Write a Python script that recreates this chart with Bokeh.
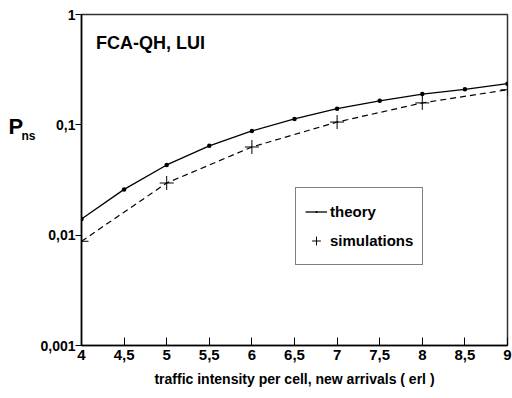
from bokeh.plotting import figure
from bokeh.layouts import row
from bokeh.models import FixedTicker, CustomJSTickFormatter, Legend, LegendItem, Label
from bokeh.embed import file_html
from bokeh.resources import INLINE

x_theory = [4, 4.5, 5, 5.5, 6, 6.5, 7, 7.5, 8, 8.5, 9]
p_theory = [0.0140, 0.026, 0.0433, 0.0645, 0.088, 0.113, 0.140, 0.165, 0.190, 0.210, 0.236]
x_sim = [4, 5, 6, 7, 8, 9]
p_sim = [0.0088, 0.0297, 0.063, 0.106, 0.158, 0.208]
x_ticks = [4, 4.5, 5, 5.5, 6, 6.5, 7, 7.5, 8, 8.5, 9]
y_ticks = [0.001, 0.01, 0.1, 1]

FONT = "Liberation Sans"
LEFT_W = 37

# narrow panel holding the y-axis label "P" with subscript "ns"
lab = figure(width=LEFT_W, height=398, output_backend="svg", toolbar_location=None,
             x_axis_location=None, y_axis_location=None, min_border=0,
             x_range=(0, 1), y_range=(0, 1))
lab.outline_line_color = None
lab.grid.visible = False
lab.background_fill_color = "white"
lab.border_fill_color = "white"
lab.add_layout(Label(x=8, y=219, x_units="screen", y_units="screen", text="P",
                     text_font=FONT, text_font_style="bold", text_color="black",
                     text_font_size="22px", text_baseline="middle"))
lab.add_layout(Label(x=21, y=210, x_units="screen", y_units="screen", text="ns",
                     text_font=FONT, text_font_style="bold", text_color="black",
                     text_font_size="12px", text_baseline="middle"))

p = figure(width=512 - LEFT_W, height=398, output_backend="svg", toolbar_location=None,
           y_axis_type="log", x_range=(4, 9), y_range=(0.001, 1),
           min_border_left=81 - LEFT_W, min_border_right=5, min_border_top=14, min_border_bottom=53)
p.background_fill_color = "white"
p.border_fill_color = "white"
p.outline_line_color = "#333333"
p.outline_line_width = 1.5
p.grid.visible = False

fmt = CustomJSTickFormatter(code="return tick.toString().replace('.', ',');")
p.xaxis.ticker = FixedTicker(ticks=x_ticks)
p.yaxis.ticker = FixedTicker(ticks=y_ticks)
p.xaxis.formatter = fmt
p.yaxis.formatter = fmt
for ax in (p.xaxis, p.yaxis):
    ax.axis_line_color = "black"
    ax.axis_line_width = 1.5
    ax.major_tick_line_color = "black"
    ax.minor_tick_line_color = None
    ax.major_label_text_font = FONT
    ax.major_label_text_font_style = "bold"
    ax.major_label_text_font_size = "15px"
    ax.major_label_text_color = "black"
p.yaxis.major_label_text_font_size = "14px"
p.xaxis.major_tick_in = 8
p.xaxis.major_tick_out = 0
p.xaxis.major_label_standoff = 4
p.yaxis.major_tick_in = 0
p.yaxis.major_tick_out = 6
p.yaxis.major_label_standoff = 0
p.xaxis.axis_label = "traffic intensity per cell, new arrivals ( erl )"
p.xaxis.axis_label_text_font = FONT
p.xaxis.axis_label_text_font_style = "bold"
p.xaxis.axis_label_text_font_size = "14px"
p.xaxis.axis_label_text_color = "black"
p.xaxis.axis_label_standoff = 8

r1 = p.line(x_theory, p_theory, line_color="black", line_width=1.3)
m1 = p.scatter(x_theory, p_theory, marker="dot", size=18, color="black")
r2 = p.line(x_sim, p_sim, line_color="black", line_width=1.2, line_dash="6 4")
m2 = p.scatter(x_sim, p_sim, marker="cross", size=14, line_color="black", line_width=1)

legend = Legend(items=[LegendItem(label="theory", renderers=[r1, m1]),
                       LegendItem(label="simulations", renderers=[m2])],
                location=(214, 80), border_line_color="black", border_line_width=1.2,
                label_text_font=FONT, label_text_font_style="bold", label_text_font_size="15px",
                label_text_color="black",
                glyph_width=22, glyph_height=29, spacing=0, padding=9, margin=0,
                label_standoff=3, background_fill_alpha=1)
p.add_layout(legend, "center")

p.add_layout(Label(x=4.17, y=0.55, text="FCA-QH, LUI", text_font=FONT, text_font_style="bold",
                   text_font_size="18px", text_baseline="middle", text_color="black"))

layout = row(lab, p, spacing=0)
open("out.html", "w").write(file_html(layout, INLINE))
